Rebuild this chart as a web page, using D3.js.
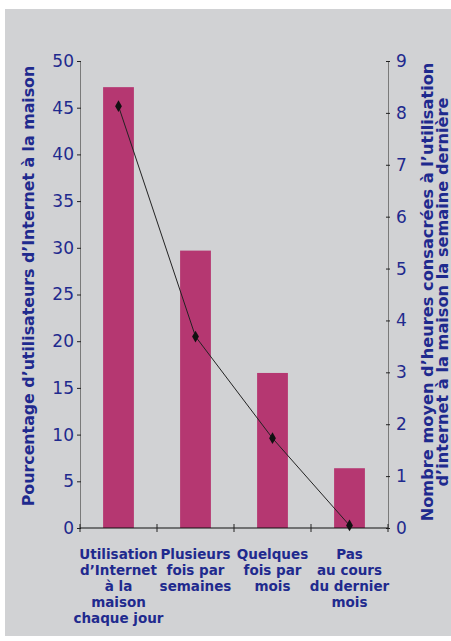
<!DOCTYPE html>
<html>
<head>
<meta charset="utf-8">
<script src="https://cdn.jsdelivr.net/npm/d3@7"></script>
<style>
  html,body{margin:0;padding:0;background:#fff}
  svg{display:block}
  text{font-family:"DejaVu Sans",Verdana,sans-serif}
</style>
</head>
<body>
<svg id="chart" width="451" height="641"></svg>
<script>
// categories (multi-line labels)
const categories = [
  ['Utilisation','d\u2019Internet','à la','maison','chaque jour'],
  ['Plusieurs','fois par','semaines'],
  ['Quelques','fois par','mois'],
  ['Pas','au cours','du dernier','mois']
]
// % of home internet users (bars, left axis)
const pctUsers = [47.2, 29.7, 16.6, 6.4]
// average hours last week (line, right axis)
const avgHours = [8.13, 3.69, 1.73, 0.05]
const leftTicks = [0,5,10,15,20,25,30,35,40,45,50]
const rightTicks = [0,1,2,3,4,5,6,7,8,9]

const blue = '#1f2a8e', barColor = '#b53771'
const svg = d3.select('#chart')
svg.append('rect').attr('x',5).attr('y',9).attr('width',446).attr('height',627).attr('fill','#d1d2d4')

const m = {left:80, right:388, top:61, bottom:528}
const x = d3.scaleBand().domain(d3.range(categories.length)).range([m.left,m.right]).paddingInner(0.6).paddingOuter(0.3)
const yL = d3.scaleLinear().domain([0,50]).range([m.bottom,m.top])
const yR = d3.scaleLinear().domain([0,9]).range([m.bottom,m.top])

// bars
svg.append('g').selectAll('rect').data(pctUsers).join('rect')
  .attr('x',(d,i)=>x(i)).attr('width',x.bandwidth())
  .attr('y',d=>yL(d)).attr('height',d=>yL(0)-yL(d))
  .attr('fill',barColor)

// left axis
const gL = svg.append('g').attr('transform',`translate(${m.left},0)`)
  .call(d3.axisLeft(yL).tickValues(leftTicks).tickSize(3).tickSizeOuter(0))
gL.select('.domain').attr('stroke','#7a7a7a')
gL.selectAll('.tick line').attr('stroke','#222').attr('x2',-3).attr('x1',1)
gL.selectAll('.tick text').attr('fill',blue).attr('font-size',17).attr('x',-6)
  .style('font-family','DejaVu Sans')

// right axis
const gR = svg.append('g').attr('transform',`translate(${m.right},0)`)
  .call(d3.axisRight(yR).tickValues(rightTicks).tickSize(3).tickSizeOuter(0))
gR.select('.domain').attr('stroke','#7a7a7a')
gR.selectAll('.tick line').attr('stroke','#222').attr('x1',-2).attr('x2',2)
gR.selectAll('.tick text').attr('fill',blue).attr('font-size',17).attr('x',8)
  .style('font-family','DejaVu Sans')

// bottom axis with ticks at band boundaries
const bounds = d3.range(categories.length+1).map(i=>m.left+i*x.step())
const gB = svg.append('g')
gB.append('line').attr('x1',m.left).attr('x2',m.right).attr('y1',m.bottom).attr('y2',m.bottom).attr('stroke','#111').attr('stroke-width',1.2)
gB.selectAll('line.t').data(bounds).join('line').attr('class','t')
  .attr('x1',d=>d).attr('x2',d=>d).attr('y1',m.bottom-4).attr('y2',m.bottom+4).attr('stroke','#222')

// category labels
svg.append('g').selectAll('text').data(categories).join('text')
  .attr('text-anchor','middle').attr('fill',blue).attr('font-size',13.5).attr('font-weight','bold')
  .attr('transform',(d,i)=>`translate(${x(i)+x.bandwidth()/2},559)`)
  .selectAll('tspan').data(d=>d).join('tspan')
  .attr('x',0).attr('dy',(d,i)=>i?16:0).text(d=>d)

// line + diamond markers
const line = d3.line().x((d,i)=>x(i)+x.bandwidth()/2).y(d=>yR(d))
svg.append('path').datum(avgHours).attr('d',line).attr('fill','none').attr('stroke','#222').attr('stroke-width',1)
svg.append('g').selectAll('path').data(avgHours).join('path')
  .attr('d',d3.symbol(d3.symbolDiamond,40))
  .attr('transform',(d,i)=>`translate(${x(i)+x.bandwidth()/2},${yR(d)})`)
  .attr('fill','#111')

// axis titles
svg.append('text').attr('transform','translate(34,286) rotate(-90)')
  .attr('text-anchor','middle').attr('fill',blue).attr('font-size',15.8).attr('font-weight','bold')
  .text('Pourcentage d\u2019utilisateurs d\u2019Internet à la maison')
const rt = svg.append('text').attr('transform','translate(433,292) rotate(-90)')
  .attr('text-anchor','middle').attr('fill',blue).attr('font-size',16.2).attr('font-weight','bold')
rt.append('tspan').attr('x',0).attr('dy',0).text('Nombre moyen d\u2019heures consacrées à l\u2019utilisation')
rt.append('tspan').attr('x',0).attr('dy',14.5).text('d\u2019internet à la maison la semaine dernière')
</script>
</body>
</html>
